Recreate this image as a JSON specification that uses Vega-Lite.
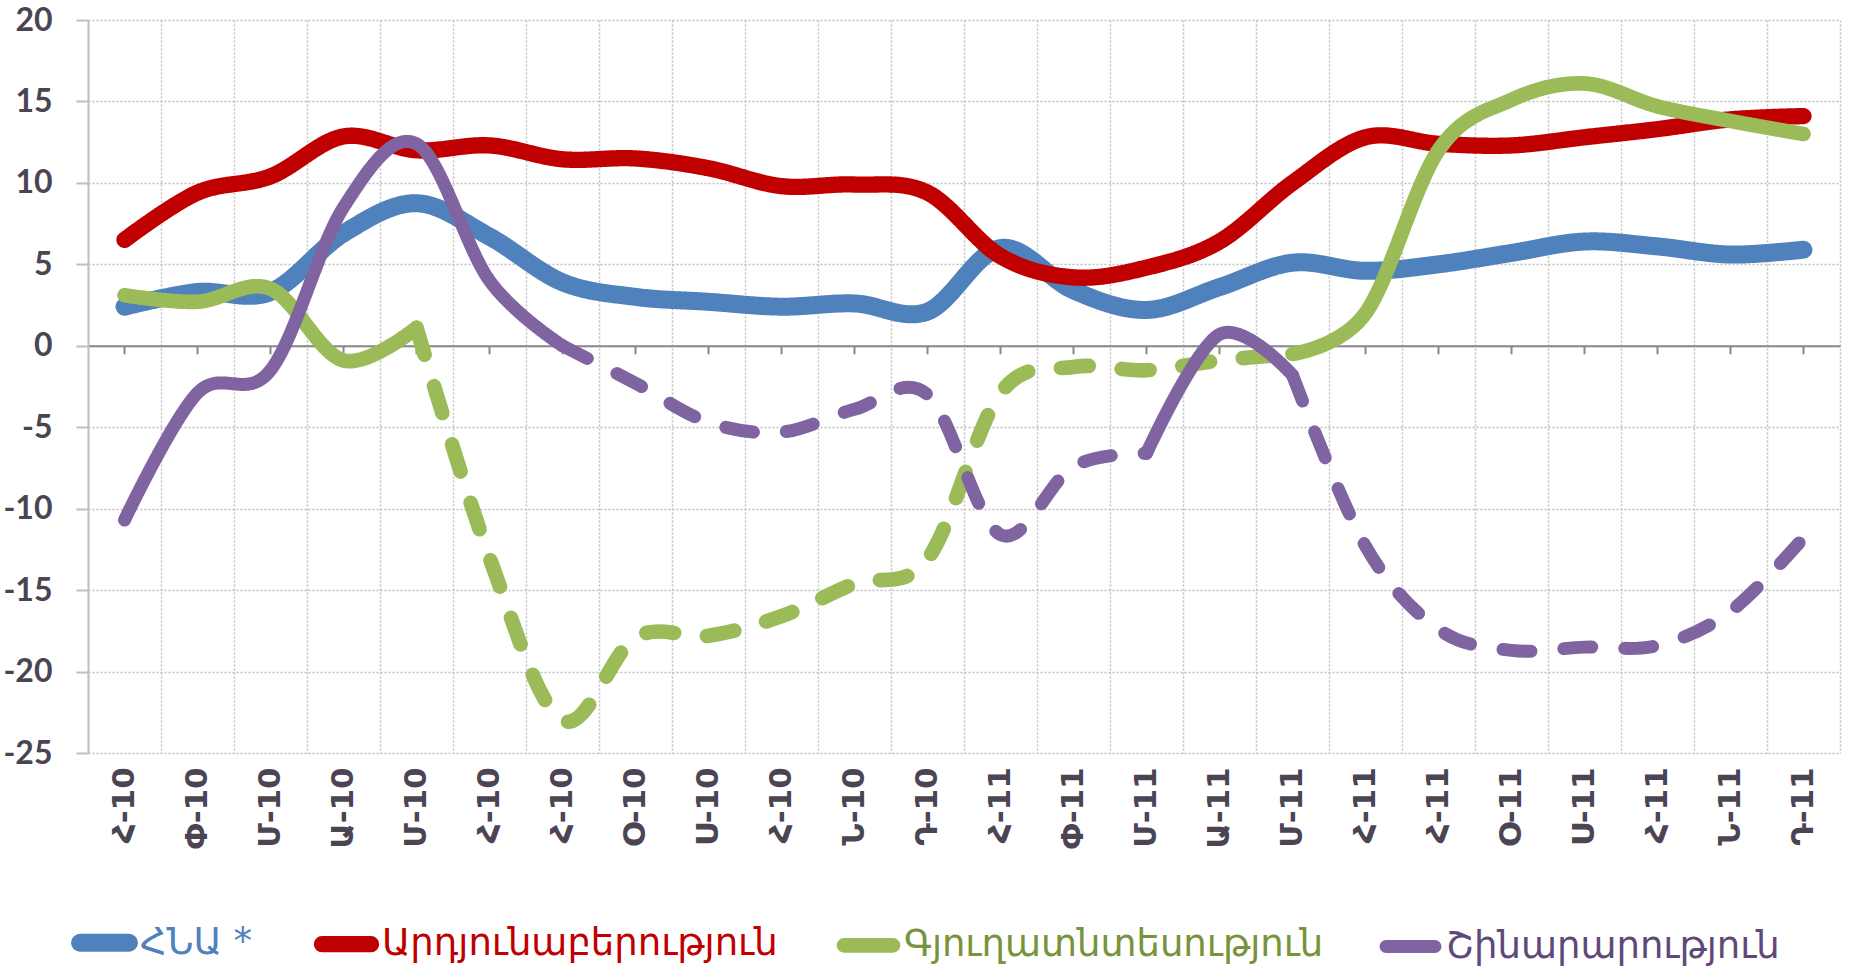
{
  "$schema": "https://vega.github.io/schema/vega-lite/v6.json",
  "width": 1752,
  "height": 733,
  "autosize": {"type": "none"},
  "padding": {"left": 88, "top": 20, "right": 17, "bottom": 218},
  "background": "white",
  "config": {"view": {"stroke": null}},
  "data": {"values": [
    {"s":"ՀՆԱ *","g":"b1","d":"solid","m":"2010-01","v":2.4},
    {"s":"ՀՆԱ *","g":"b1","d":"solid","m":"2010-02","v":3.3},
    {"s":"ՀՆԱ *","g":"b1","d":"solid","m":"2010-03","v":3.3},
    {"s":"ՀՆԱ *","g":"b1","d":"solid","m":"2010-04","v":6.9},
    {"s":"ՀՆԱ *","g":"b1","d":"solid","m":"2010-05","v":8.75},
    {"s":"ՀՆԱ *","g":"b1","d":"solid","m":"2010-06","v":6.7},
    {"s":"ՀՆԱ *","g":"b1","d":"solid","m":"2010-07","v":3.9},
    {"s":"ՀՆԱ *","g":"b1","d":"solid","m":"2010-08","v":3.0},
    {"s":"ՀՆԱ *","g":"b1","d":"solid","m":"2010-09","v":2.7},
    {"s":"ՀՆԱ *","g":"b1","d":"solid","m":"2010-10","v":2.4},
    {"s":"ՀՆԱ *","g":"b1","d":"solid","m":"2010-11","v":2.6},
    {"s":"ՀՆԱ *","g":"b1","d":"solid","m":"2010-12","v":2.1},
    {"s":"ՀՆԱ *","g":"b1","d":"solid","m":"2011-01","v":6.0},
    {"s":"ՀՆԱ *","g":"b1","d":"solid","m":"2011-02","v":3.4},
    {"s":"ՀՆԱ *","g":"b1","d":"solid","m":"2011-03","v":2.2},
    {"s":"ՀՆԱ *","g":"b1","d":"solid","m":"2011-04","v":3.6},
    {"s":"ՀՆԱ *","g":"b1","d":"solid","m":"2011-05","v":5.1},
    {"s":"ՀՆԱ *","g":"b1","d":"solid","m":"2011-06","v":4.6},
    {"s":"ՀՆԱ *","g":"b1","d":"solid","m":"2011-07","v":5.0},
    {"s":"ՀՆԱ *","g":"b1","d":"solid","m":"2011-08","v":5.7},
    {"s":"ՀՆԱ *","g":"b1","d":"solid","m":"2011-09","v":6.4},
    {"s":"ՀՆԱ *","g":"b1","d":"solid","m":"2011-10","v":6.1},
    {"s":"ՀՆԱ *","g":"b1","d":"solid","m":"2011-11","v":5.6},
    {"s":"ՀՆԱ *","g":"b1","d":"solid","m":"2011-12","v":5.9},
    {"s":"Արդյունաբերություն","g":"r1","d":"solid","m":"2010-01","v":6.5},
    {"s":"Արդյունաբերություն","g":"r1","d":"solid","m":"2010-02","v":9.4},
    {"s":"Արդյունաբերություն","g":"r1","d":"solid","m":"2010-03","v":10.4},
    {"s":"Արդյունաբերություն","g":"r1","d":"solid","m":"2010-04","v":12.85},
    {"s":"Արդյունաբերություն","g":"r1","d":"solid","m":"2010-05","v":12.0},
    {"s":"Արդյունաբերություն","g":"r1","d":"solid","m":"2010-06","v":12.3},
    {"s":"Արդյունաբերություն","g":"r1","d":"solid","m":"2010-07","v":11.45},
    {"s":"Արդյունաբերություն","g":"r1","d":"solid","m":"2010-08","v":11.5},
    {"s":"Արդյունաբերություն","g":"r1","d":"solid","m":"2010-09","v":10.9},
    {"s":"Արդյունաբերություն","g":"r1","d":"solid","m":"2010-10","v":9.8},
    {"s":"Արդյունաբերություն","g":"r1","d":"solid","m":"2010-11","v":9.9},
    {"s":"Արդյունաբերություն","g":"r1","d":"solid","m":"2010-12","v":9.4},
    {"s":"Արդյունաբերություն","g":"r1","d":"solid","m":"2011-01","v":5.5},
    {"s":"Արդյունաբերություն","g":"r1","d":"solid","m":"2011-02","v":4.2},
    {"s":"Արդյունաբերություն","g":"r1","d":"solid","m":"2011-03","v":4.8},
    {"s":"Արդյունաբերություն","g":"r1","d":"solid","m":"2011-04","v":6.4},
    {"s":"Արդյունաբերություն","g":"r1","d":"solid","m":"2011-05","v":10.0},
    {"s":"Արդյունաբերություն","g":"r1","d":"solid","m":"2011-06","v":12.8},
    {"s":"Արդյունաբերություն","g":"r1","d":"solid","m":"2011-07","v":12.4},
    {"s":"Արդյունաբերություն","g":"r1","d":"solid","m":"2011-08","v":12.3},
    {"s":"Արդյունաբերություն","g":"r1","d":"solid","m":"2011-09","v":12.8},
    {"s":"Արդյունաբերություն","g":"r1","d":"solid","m":"2011-10","v":13.3},
    {"s":"Արդյունաբերություն","g":"r1","d":"solid","m":"2011-11","v":13.9},
    {"s":"Արդյունաբերություն","g":"r1","d":"solid","m":"2011-12","v":14.1},
    {"s":"Գյուղատնտեսություն","g":"g1","d":"solid","m":"2010-01","v":3.1},
    {"s":"Գյուղատնտեսություն","g":"g1","d":"solid","m":"2010-02","v":2.7},
    {"s":"Գյուղատնտեսություն","g":"g1","d":"solid","m":"2010-03","v":3.5},
    {"s":"Գյուղատնտեսություն","g":"g1","d":"solid","m":"2010-04","v":-0.9},
    {"s":"Գյուղատնտեսություն","g":"g1","d":"solid","m":"2010-05","v":1.1},
    {"s":"Գյուղատնտեսություն","g":"g2","d":"dash","m":"2010-05","v":1.1},
    {"s":"Գյուղատնտեսություն","g":"g2","d":"dash","m":"2010-06","v":-13.0},
    {"s":"Գյուղատնտեսություն","g":"g2","d":"dash","m":"2010-07","v":-23.0},
    {"s":"Գյուղատնտեսություն","g":"g2","d":"dash","m":"2010-08","v":-17.9},
    {"s":"Գյուղատնտեսություն","g":"g2","d":"dash","m":"2010-09","v":-17.8},
    {"s":"Գյուղատնտեսություն","g":"g2","d":"dash","m":"2010-10","v":-16.6},
    {"s":"Գյուղատնտեսություն","g":"g2","d":"dash","m":"2010-11","v":-14.6},
    {"s":"Գյուղատնտեսություն","g":"g2","d":"dash","m":"2010-12","v":-13.1},
    {"s":"Գյուղատնտեսություն","g":"g2","d":"dash","m":"2011-01","v":-2.9},
    {"s":"Գյուղատնտեսություն","g":"g2","d":"dash","m":"2011-02","v":-1.3},
    {"s":"Գյուղատնտեսություն","g":"g2","d":"dash","m":"2011-03","v":-1.5},
    {"s":"Գյուղատնտեսություն","g":"g2","d":"dash","m":"2011-04","v":-0.9},
    {"s":"Գյուղատնտեսություն","g":"g2","d":"dash","m":"2011-05","v":-0.5},
    {"s":"Գյուղատնտեսություն","g":"g3","d":"solid","m":"2011-05","v":-0.5},
    {"s":"Գյուղատնտեսություն","g":"g3","d":"solid","m":"2011-06","v":2.0},
    {"s":"Գյուղատնտեսություն","g":"g3","d":"solid","m":"2011-07","v":12.0},
    {"s":"Գյուղատնտեսություն","g":"g3","d":"solid","m":"2011-08","v":15.1},
    {"s":"Գյուղատնտեսություն","g":"g3","d":"solid","m":"2011-09","v":16.1},
    {"s":"Գյուղատնտեսություն","g":"g3","d":"solid","m":"2011-10","v":14.7},
    {"s":"Գյուղատնտեսություն","g":"g3","d":"solid","m":"2011-11","v":13.8},
    {"s":"Գյուղատնտեսություն","g":"g3","d":"solid","m":"2011-12","v":13.0},
    {"s":"Շինարարություն","g":"p1","d":"solid","m":"2010-01","v":-10.7},
    {"s":"Շինարարություն","g":"p1","d":"solid","m":"2010-02","v":-2.9},
    {"s":"Շինարարություն","g":"p1","d":"solid","m":"2010-03","v":-1.5},
    {"s":"Շինարարություն","g":"p1","d":"solid","m":"2010-04","v":8.5},
    {"s":"Շինարարություն","g":"p1","d":"solid","m":"2010-05","v":12.4},
    {"s":"Շինարարություն","g":"p1","d":"solid","m":"2010-06","v":4.0},
    {"s":"Շինարարություն","g":"p1","d":"solid","m":"2010-07","v":0.0},
    {"s":"Շինարարություն","g":"p2","d":"dash","m":"2010-07","v":0.0},
    {"s":"Շինարարություն","g":"p2","d":"dash","m":"2010-08","v":-2.3},
    {"s":"Շինարարություն","g":"p2","d":"dash","m":"2010-09","v":-4.7},
    {"s":"Շինարարություն","g":"p2","d":"dash","m":"2010-10","v":-5.3},
    {"s":"Շինարարություն","g":"p2","d":"dash","m":"2010-11","v":-3.9},
    {"s":"Շինարարություն","g":"p2","d":"dash","m":"2010-12","v":-3.0},
    {"s":"Շինարարություն","g":"p2","d":"dash","m":"2011-01","v":-11.6},
    {"s":"Շինարարություն","g":"p2","d":"dash","m":"2011-02","v":-7.4},
    {"s":"Շինարարություն","g":"p2","d":"dash","m":"2011-03","v":-6.6},
    {"s":"Շինարարություն","g":"p3","d":"solid","m":"2011-03","v":-6.6},
    {"s":"Շինարարություն","g":"p3","d":"solid","m":"2011-04","v":0.7},
    {"s":"Շինարարություն","g":"p3","d":"solid","m":"2011-05","v":-1.8},
    {"s":"Շինարարություն","g":"p4","d":"dash","m":"2011-05","v":-1.8},
    {"s":"Շինարարություն","g":"p4","d":"dash","m":"2011-06","v":-12.3},
    {"s":"Շինարարություն","g":"p4","d":"dash","m":"2011-07","v":-17.4},
    {"s":"Շինարարություն","g":"p4","d":"dash","m":"2011-08","v":-18.7},
    {"s":"Շինարարություն","g":"p4","d":"dash","m":"2011-09","v":-18.5},
    {"s":"Շինարարություն","g":"p4","d":"dash","m":"2011-10","v":-18.4},
    {"s":"Շինարարություն","g":"p4","d":"dash","m":"2011-11","v":-16.3},
    {"s":"Շինարարություն","g":"p4","d":"dash","m":"2011-12","v":-11.8}
  ]},
  "encoding": {
    "y": {
      "field": "v", "type": "quantitative",
      "scale": {"domain": [-25, 20], "nice": false, "zero": false},
      "axis": {
        "values": [-25, -20, -15, -10, -5, 0, 5, 10, 15, 20],
        "title": null,
        "grid": true, "gridColor": "#bfbfbf", "gridDash": [2, 2], "gridWidth": 1.5,
        "domainColor": "#bfbfbf", "domainWidth": 2,
        "tickColor": "#bfbfbf", "tickWidth": 2, "tickSize": 12,
        "labelPadding": 24, "labelFont": "Lato", "labelFontWeight": "bold",
        "labelFontSize": 32, "labelColor": "#4a4453",
        "labelExpr": "'' + datum.value"
      }
    },
    "color": {
      "field": "s", "type": "nominal",
      "scale": {
        "domain": ["ՀՆԱ *", "Արդյունաբերություն", "Գյուղատնտեսություն", "Շինարարություն"],
        "range": ["#4F81BD", "#C00000", "#9BBB59", "#8064A2"]
      },
      "legend": {
        "orient": "none", "legendX": -17, "legendY": 889,
        "direction": "horizontal", "columns": 4, "columnPadding": 36,
        "title": null,
        "symbolType": "stroke", "symbolSize": 2401, "symbolStrokeWidth": 18,
        "labelFont": "DejaVu Sans", "labelFontSize": 37, "labelOffset": 2, "labelLimit": 1000,
        "encode": {
          "symbols": {"update": {"strokeCap": {"value": "round"}, "strokeDash": {"value": [1, 0]}}},
          "labels": {"update": {"fill": {"signal": "datum.value === 'ՀՆԱ *' ? '#4F81BD' : datum.value === 'Արդյունաբերություն' ? '#C00000' : datum.value === 'Գյուղատնտեսություն' ? '#77933C' : '#5F497A'"}}}
        }
      }
    },
    "strokeDash": {
      "field": "d", "type": "nominal",
      "scale": {"domain": ["solid", "dash"], "range": [[1, 0], [28, 33]]},
      "legend": null
    },
    "strokeWidth": {
      "field": "s", "type": "nominal",
      "scale": {
        "domain": ["ՀՆԱ *", "Արդյունաբերություն", "Գյուղատնտեսություն", "Շինարարություն"],
        "range": [18, 13, 13, 13]
      },
      "legend": null
    },
    "detail": {"field": "g", "type": "nominal"}
  },
  "layer": [
    {
      "transform": [{"filter": {"field": "s", "oneOf": ["ՀՆԱ *", "Արդյունաբերություն"]}}],
      "mark": {"type": "line", "interpolate": "cardinal", "strokeCap": "round", "strokeJoin": "round"},
      "encoding": {
        "x": {
          "field": "m", "type": "ordinal",
          "scale": {"type": "band", "paddingInner": 0, "paddingOuter": 0},
          "axis": {
            "orient": "bottom", "offset": -407.2, "title": null,
            "domain": true, "domainColor": "#888888", "domainWidth": 2,
            "ticks": true, "tickColor": "#888888", "tickWidth": 2, "tickSize": 8,
            "grid": false,
            "labelAngle": -90, "labelAlign": "right", "labelBaseline": "middle",
            "labelPadding": 413, "labelFont": "DejaVu Sans", "labelFontWeight": "bold",
            "labelFontSize": 31, "labelColor": "#4a4453", "labelOverlap": false, "labelBound": false,
            "labelExpr": "['Հ','Փ','Մ','Ա','Մ','Հ','Հ','Օ','Ս','Հ','Ն','Դ'][toNumber(substring(datum.value,5,7))-1] + '-' + substring(datum.value,2,4)"
          }
        }
      }
    },
    {
      "transform": [{"filter": {"field": "s", "oneOf": ["Գյուղատնտեսություն", "Շինարարություն"]}}],
      "mark": {"type": "line", "interpolate": "cardinal", "strokeCap": "round", "strokeJoin": "round"},
      "encoding": {
        "x": {
          "field": "m", "type": "ordinal",
          "scale": {"type": "band", "paddingInner": 0, "paddingOuter": 0},
          "axis": {
            "orient": "bottom", "title": null, "tickBand": "extent",
            "grid": true, "gridColor": "#bfbfbf", "gridDash": [2, 2], "gridWidth": 1.5,
            "labels": false, "ticks": false, "domain": false
          }
        }
      }
    }
  ],
  "resolve": {"axis": {"x": "independent"}}
}
